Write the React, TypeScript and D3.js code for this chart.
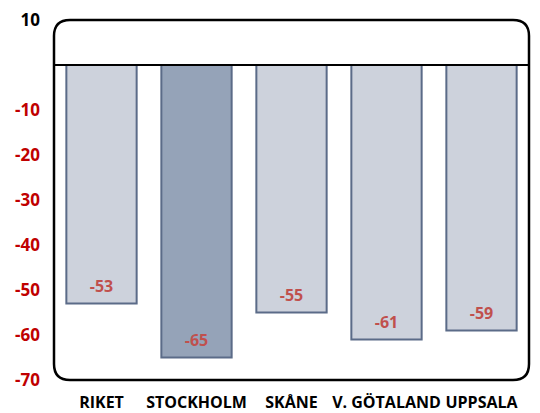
import React from 'react';
import * as d3 from 'd3';

const regions = ['RIKET', 'STOCKHOLM', 'SKÅNE', 'V. GÖTALAND', 'UPPSALA'];
const values = [-53, -65, -55, -61, -59];
const highlighted = ['STOCKHOLM'];
const yTicks = [10, -10, -20, -30, -40, -50, -60, -70];

const width = 540;
const height = 413;
const box = { left: 54, right: 529, top: 20, bottom: 380 };
const font = '"Open Sans", "DejaVu Sans", sans-serif';

const App = () => {
  const x = d3.scaleBand<string>()
    .domain(regions)
    .range([box.left, box.right])
    .paddingInner(0.26)
    .paddingOuter(0.13);

  const y = d3.scaleLinear()
    .domain([-70, 10])
    .range([box.bottom, box.top]);

  const r = 16;
  // rounded frame
  const frame = `M${box.left},${box.top + r}
    Q${box.left},${box.top} ${box.left + r},${box.top}
    L${box.right - r},${box.top}
    Q${box.right},${box.top} ${box.right},${box.top + r}
    L${box.right},${box.bottom - r}
    Q${box.right},${box.bottom} ${box.right - r},${box.bottom}
    L${box.left + r},${box.bottom}
    Q${box.left},${box.bottom} ${box.left},${box.bottom - r} Z`;

  return (
    <svg
      width={width}
      height={height}
      style={{ position: 'absolute', left: 0, top: 0, fontFamily: font, background: '#fff' }}
    >
      {/* Bars */}
      {regions.map((name, i) => (
        <rect
          key={name}
          x={x(name)}
          y={y(0)}
          width={x.bandwidth()}
          height={y(values[i]) - y(0)}
          fill={highlighted.includes(name) ? '#95a3b8' : '#cdd2dc'}
          stroke="#5b6b88"
          strokeWidth={2}
        />
      ))}

      {/* Zero line */}
      <line x1={box.left} x2={box.right} y1={y(0)} y2={y(0)} stroke="#000" strokeWidth={2} />

      {/* Frame */}
      <path d={frame} fill="none" stroke="#000" strokeWidth={2.5} />

      {/* Value labels */}
      {regions.map((name, i) => (
        <text
          key={`v-${name}`}
          x={(x(name) ?? 0) + x.bandwidth() / 2}
          y={y(values[i]) - 12}
          textAnchor="middle"
          fill="#c0504d"
          style={{ fontSize: '16px', fontWeight: 'bold' }}
        >
          {values[i]}
        </text>
      ))}

      {/* Y axis labels */}
      {yTicks.map(t => (
        <text
          key={`y-${t}`}
          x={40}
          y={y(t) + 6}
          textAnchor="end"
          fill={t < 0 ? '#c00000' : '#000'}
          style={{ fontSize: '17px', fontWeight: 'bold' }}
        >
          {t}
        </text>
      ))}

      {/* X axis labels */}
      {regions.map(name => (
        <text
          key={`x-${name}`}
          x={(x(name) ?? 0) + x.bandwidth() / 2}
          y={408}
          textAnchor="middle"
          fill="#000"
          style={{ fontSize: '16px', fontWeight: 'bold' }}
        >
          {name}
        </text>
      ))}
    </svg>
  );
};

export default App;
